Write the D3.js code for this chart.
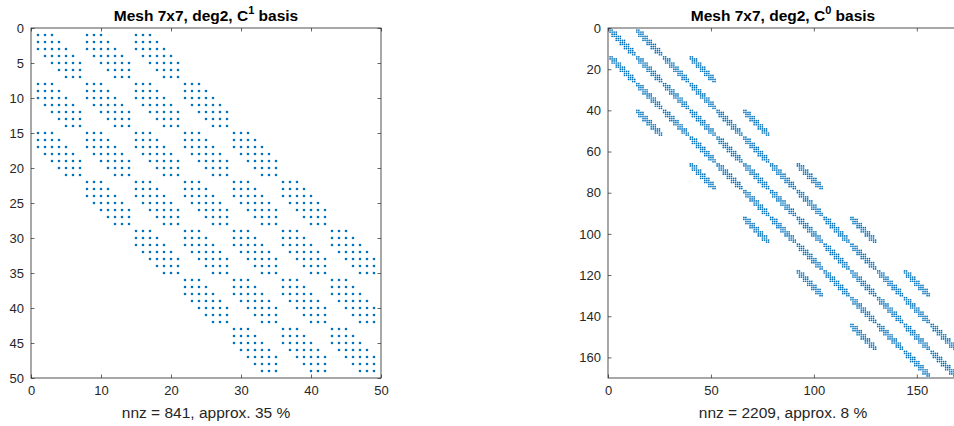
<!DOCTYPE html>
<html>
<head>
<meta charset="utf-8">
<script src="https://cdn.jsdelivr.net/npm/d3@7"></script>
<style>
  body { margin: 0; background: #fff; }
  svg { display: block; font-family: 'Liberation Sans', Arial, sans-serif; }
  .tick text { fill: #262626; font-size: 13px; }
  .tick line { stroke: #262626; stroke-width: 0.7px; }
</style>
</head>
<body>
<svg id="chart" width="954" height="426"></svg>
<script>
// 1D sparsity patterns (column indices per row, 1-based); the 2D matrix is their tensor product
const c1Pattern = [
  [1, 2, 3], [1, 2, 3, 4], [1, 2, 3, 4, 5], [2, 3, 4, 5, 6],
  [3, 4, 5, 6, 7], [4, 5, 6, 7], [5, 6, 7]
];
const c0Pattern = [
  [1, 2], [1, 2, 3, 4], [2, 3, 4], [2, 3, 4, 5, 6], [4, 5, 6],
  [4, 5, 6, 7, 8], [6, 7, 8], [6, 7, 8, 9, 10], [8, 9, 10],
  [8, 9, 10, 11, 12], [10, 11, 12], [10, 11, 12, 13], [12, 13]
];

const titleText = ['Mesh 7x7, deg2, C', 'Mesh 7x7, deg2, C'];
const titleSup = ['1', '0'];
const xLabelText = ['nnz = 841, approx. 35 %', 'nnz = 2209, approx. 8 %'];
const xTicksLeft = [0, 10, 20, 30, 40, 50];
const yTicksLeft = [0, 5, 10, 15, 20, 25, 30, 35, 40, 45, 50];
const xTicksRight = [0, 50, 100, 150];
const yTicksRight = [0, 20, 40, 60, 80, 100, 120, 140, 160];

// nonzeros of kron(P, P)
let kronPoints = (P) => {
  let n = P.length, pts = [];
  P.forEach((cols, I) => {
    cols.forEach((J) => {
      P.forEach((cols2, i) => {
        cols2.forEach((j) => {
          pts.push({ row: I * n + i + 1, col: (J - 1) * n + j });
        });
      });
    });
  });
  return pts;
};

const svg = d3.select('#chart');
const blue = '#0072bd';
const ink = '#262626';
const tickLen = 3.5;

let drawSpy = (opts) => {
  let n = opts.pattern.length ** 2;
  let x = d3.scaleLinear().domain([0, n + 1]).range([opts.left, opts.left + opts.size]);
  let y = d3.scaleLinear().domain([0, n + 1]).range([opts.top, opts.top + opts.size]);
  let g = svg.append('g');

  let pts = kronPoints(opts.pattern);
  g.append('g').selectAll('circle')
    .data(pts)
    .enter().append('circle')
    .attr('cx', (d) => x(d.col))
    .attr('cy', (d) => y(d.row))
    .attr('r', opts.r)
    .attr('fill', blue);

  let bottom = opts.top + opts.size, right = opts.left + opts.size;

  g.append('g').attr('transform', `translate(0,${bottom})`)
    .call(d3.axisBottom(x).tickValues(opts.xTicks).tickSize(-tickLen).tickPadding(8))
    .call((a) => a.select('.domain').remove());
  g.append('g').attr('transform', `translate(${opts.left},0)`)
    .call(d3.axisLeft(y).tickValues(opts.yTicks).tickSize(-tickLen).tickPadding(7))
    .call((a) => a.select('.domain').remove());
  g.append('g').attr('transform', `translate(0,${opts.top})`)
    .call(d3.axisTop(x).tickValues(opts.xTicks).tickSize(-tickLen).tickFormat(''))
    .call((a) => a.select('.domain').remove());
  g.append('g').attr('transform', `translate(${right},0)`)
    .call(d3.axisRight(y).tickValues(opts.yTicks).tickSize(-tickLen).tickFormat(''))
    .call((a) => a.select('.domain').remove());

  g.selectAll('.tick text').style('font-family', "'Liberation Sans', Arial, sans-serif");

  g.append('rect')
    .attr('x', opts.left).attr('y', opts.top)
    .attr('width', opts.size).attr('height', opts.size)
    .style('fill', 'none').style('stroke', ink).style('stroke-width', 0.8);

  let cx = opts.left + opts.size / 2;
  let t = g.append('text')
    .attr('x', cx).attr('y', 21)
    .attr('text-anchor', 'middle')
    .style('font-weight', 'bold').style('font-size', '15.5px').style('fill', '#000');
  t.append('tspan').text(opts.title);
  t.append('tspan').attr('dy', -7).style('font-size', '11px').text(opts.sup);
  t.append('tspan').attr('dy', 7).text(' basis');

  g.append('text')
    .attr('x', cx).attr('y', bottom + 40)
    .attr('text-anchor', 'middle')
    .style('font-size', '15.5px').style('fill', ink)
    .text(opts.xLabel);
};

drawSpy({ pattern: c1Pattern, left: 31, top: 28, size: 350, r: 1.3,
  xTicks: xTicksLeft, yTicks: yTicksLeft, title: titleText[0], sup: titleSup[0], xLabel: xLabelText[0] });
drawSpy({ pattern: c0Pattern, left: 608, top: 28, size: 350, r: 0.85,
  xTicks: xTicksRight, yTicks: yTicksRight, title: titleText[1], sup: titleSup[1], xLabel: xLabelText[1] });
</script>
</body>
</html>
